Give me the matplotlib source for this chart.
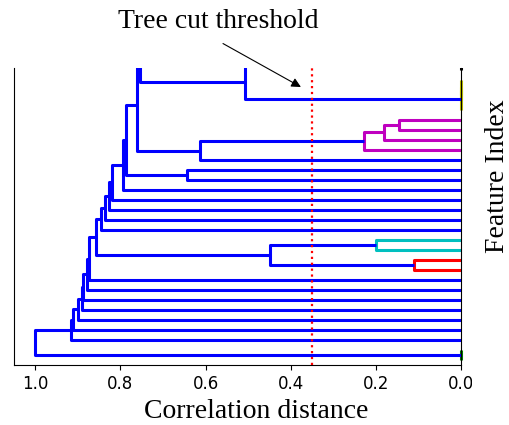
import numpy as np
import matplotlib
matplotlib.use("Agg")
import matplotlib.pyplot as plt
from matplotlib.patches import Rectangle

# dendrogram of the features, leaves numbered bottom -> top
# merge k makes node n_leaves + k out of child_a[k] (lower) and child_b[k] (upper)
# leaves 31-34 and their merges lie above the part of the tree that is shown
n_leaves = 35
child_a = [0, 9, 11, 36, 23, 22, 21, 20, 26, 43, 25, 29, 45, 31, 33, 48, 47,
           42, 18, 53, 17, 16, 15, 14, 13, 38, 8, 7, 6, 5, 4, 3, 2, 35]
child_b = [1, 10, 12, 37, 24, 39, 40, 41, 27, 28, 44, 30, 46, 32, 34, 49, 50,
           51, 19, 52, 54, 55, 56, 57, 58, 59, 60, 61, 62, 63, 64, 65, 66, 67]
merge_dist = [0.0, 0.11, 0.20, 0.448, 0.145, 0.182, 0.227, 0.614, 0.0, 0.0,
              0.0, 0.0, 0.507, 0.05, 0.08, 0.30, 0.755, 0.762, 0.644, 0.786,
              0.793, 0.820, 0.826, 0.836, 0.845, 0.857, 0.874, 0.879, 0.887,
              0.890, 0.900, 0.911, 0.915, 1.0]

threshold = 0.35
palette = ["g", "r", "c", "m", "y", "k"]
xticks = [1.0, 0.8, 0.6, 0.4, 0.2, 0.0]

# layout like scipy: leaf i at 5 + 10 i, node at mean of its children
ypos = {i: 5.0 + 10 * i for i in range(n_leaves)}
dpos = {i: 0.0 for i in range(n_leaves)}
lowest = {i: i for i in range(n_leaves)}
parent = {}
for k, d in enumerate(merge_dist):
    node = n_leaves + k
    a, b = child_a[k], child_b[k]
    ypos[node] = (ypos[a] + ypos[b]) / 2
    dpos[node] = d
    lowest[node] = min(lowest[a], lowest[b])
    parent[a] = parent[b] = node

nodes = range(n_leaves, n_leaves + len(merge_dist))
# clusters under the threshold get the palette colours in leaf order
roots = [n for n in nodes if dpos[n] < threshold and
         (n not in parent or dpos[parent[n]] >= threshold)]
roots.sort(key=lambda n: lowest[n])
root_color = {n: palette[i % len(palette)] for i, n in enumerate(roots)}


def link_color(n):
    if dpos[n] >= threshold:
        return "b"
    while n in parent and dpos[parent[n]] < threshold:
        n = parent[n]
    return root_color[n]


fig = plt.figure(figsize=(5.09, 4.25), dpi=100)
ax = fig.add_axes([14 / 509, 60 / 425, 447 / 509, 297 / 425])

# clip a bit past the right edge so the links at distance 0 stay whole
clip = Rectangle((0, 0), 1.008, 1, transform=ax.transAxes)
for k in range(len(merge_dist)):
    node = n_leaves + k
    a, b = child_a[k], child_b[k]
    d = dpos[node]
    line, = ax.plot([dpos[a], d, d, dpos[b]],
                    [ypos[a], ypos[a], ypos[b], ypos[b]],
                    color=link_color(node), lw=2.2, solid_capstyle="butt")
    line.set_clip_path(clip)

ax.axvline(threshold, color="r", linestyle=":", lw=1.6, zorder=5)

ax.set_xlim(1.05, 0)
ax.set_ylim(0, 297)
ax.set_xticks(xticks)
ax.set_xticklabels([f"{t:.1f}" for t in xticks])
ax.tick_params(axis="x", labelsize=12)
ax.set_yticks([])
ax.spines["top"].set_visible(False)

serif = "Liberation Serif"
ax.set_xlabel("Correlation distance", fontsize=20, family=serif)
ax.xaxis.set_label_coords(0.541, -0.114)
ax.yaxis.set_label_position("right")
ax.set_ylabel("Feature Index", fontsize=20, family=serif)
ax.yaxis.set_label_coords(1.054, 0.635)

ax.annotate("Tree cut threshold", xy=(0.376, 278), xytext=(0.571, 337),
            ha="center", va="baseline", fontsize=20, family=serif,
            annotation_clip=False,
            arrowprops=dict(arrowstyle="-|>", color="k", lw=0.8,
                            mutation_scale=14, relpos=(0.44, 0),
                            shrinkA=10, shrinkB=0))

# the last tick label is cut off in the original figure
fig.patches.append(Rectangle((472 / 509, 25 / 425), 37 / 509, 28 / 425,
                             transform=fig.transFigure, facecolor="white",
                             edgecolor="none", zorder=10))

fig.savefig("out.png", dpi=100)
